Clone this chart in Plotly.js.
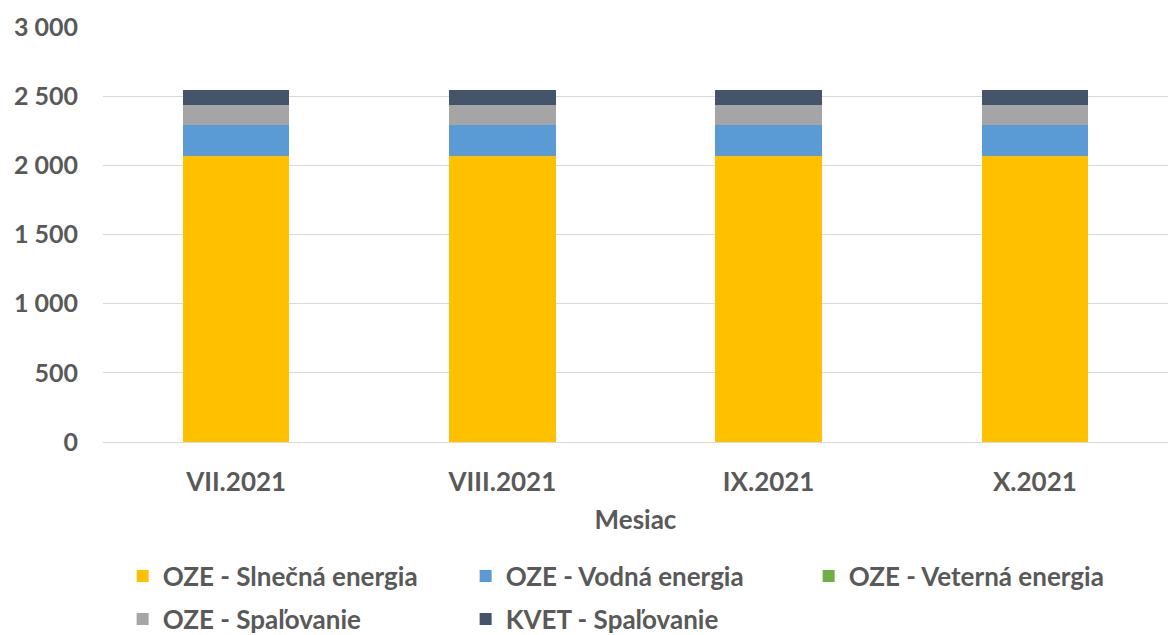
<!DOCTYPE html>
<html>
<head>
<meta charset="utf-8">
<script src="https://cdn.plot.ly/plotly-3.0.1.min.js"></script>
<style>html,body{margin:0;padding:0;background:#fff;}#chart{width:1168px;height:635px;}</style>
</head>
<body>
<div id="chart"></div>
<script>
const months = ["VII.2021", "VIII.2021", "IX.2021", "X.2021"];
const seriesNames = ["OZE - Slnečná energia", "OZE - Vodná energia", "OZE - Veterná energia", "OZE - Spaľovanie", "KVET - Spaľovanie"];
const slnecna = [2070, 2070, 2070, 2070];
const vodna = [225, 225, 225, 225];
const veterna = [0, 0, 0, 0];
const spalovanieOZE = [144, 144, 144, 144];
const spalovanieKVET = [103, 103, 103, 103];
const yTicks = [0, 500, 1000, 1500, 2000, 2500, 3000];
const colors = ["#FFC000", "#5B9BD5", "#70AD47", "#A5A5A5", "#44546A"];
const values = [slnecna, vodna, veterna, spalovanieOZE, spalovanieKVET];
const legendOf = ["legend", "legend", "legend", "legend2", "legend2"];

const font = "Lato, 'Open Sans', sans-serif";
const grey = "#595959";
const traces = values.map((v, i) => ({
  type: "bar", x: months, y: v, name: seriesNames[i],
  marker: {color: colors[i]}, legend: legendOf[i]
}));

const legendBase = {
  orientation: "h", xref: "container", yref: "container",
  x: 0.105, xanchor: "left", yanchor: "middle",
  entrywidth: 298, entrywidthmode: "pixels", traceorder: "normal",
  font: {family: font, size: 26, color: grey, weight: "bold"},
  itemwidth: 30, bgcolor: "rgba(0,0,0,0)"
};

const layout = {
  width: 1168, height: 635,
  barmode: "stack", bargap: 0.6,
  separators: ", ",
  paper_bgcolor: "#fff", plot_bgcolor: "#fff",
  margin: {l: 103, r: 0, t: 27, b: 193},
  font: {family: font, color: grey, size: 25},
  xaxis: {
    tickfont: {family: font, size: 26, color: grey, weight: "bold"},
    title: {text: "Mesiac", font: {family: font, size: 26, color: grey, weight: "bold"}, standoff: 14},
    showline: false, ticks: "", ticklabelstandoff: 22, automargin: true
  },
  yaxis: {
    range: [0, 3000], tickvals: yTicks, tickformat: ",",
    tickfont: {family: font, size: 25, color: grey, weight: "bold"},
    gridcolor: "#D9D9D9", gridwidth: 1, zeroline: true, zerolinecolor: "#D9D9D9", zerolinewidth: 1,
    ticks: "", ticklabelstandoff: 24, automargin: false
  },
  legend: Object.assign({}, legendBase, {y: 1 - 576 / 635}),
  legend2: Object.assign({}, legendBase, {y: 1 - 619 / 635}),
  showlegend: true
};

Plotly.newPlot("chart", traces, layout, {displayModeBar: false, staticPlot: true});
</script>
</body>
</html>
